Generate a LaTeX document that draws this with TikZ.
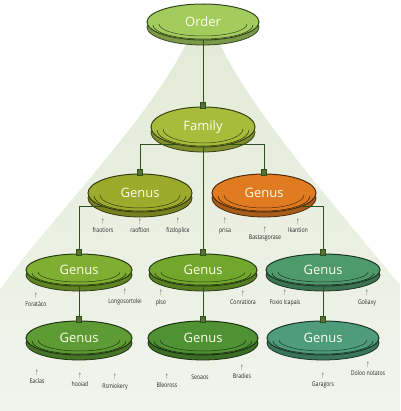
\documentclass[tikz,border=0pt]{standalone}
\usepackage{fontspec}
\usepackage{graphicx}
\setmainfont{Open Sans}
\newfontfamily\tagfont[FakeStretch=0.8]{Open Sans}
\usepackage{tikz}
\usetikzlibrary{shapes.geometric, positioning, calc}
\definecolor{cOrder}{HTML}{A2CC5E}
\definecolor{cFamily}{HTML}{A8BC3C}
\definecolor{cGenusA}{HTML}{9DAA2C}
\definecolor{cGenusB}{HTML}{E07B22}
\definecolor{cGenusC}{HTML}{7FAE32}
\definecolor{cGenusD}{HTML}{72A72E}
\definecolor{cGenusE}{HTML}{4F9A6C}
\definecolor{cGenusF}{HTML}{5E9B34}
\definecolor{cGenusG}{HTML}{4F9233}
\definecolor{cGenusH}{HTML}{4E9C7A}
\definecolor{cLink}{HTML}{2D5219}
\definecolor{cConeTop}{HTML}{E3EBD7}
\definecolor{cConeBot}{HTML}{F1F4EC}
\newcommand{\upnote}[1]{\shortstack{\scalebox{0.6}[1.1]{$\uparrow$}\\#1}}

\begin{document}
\begin{tikzpicture}[x=1pt, y=-1pt, >=latex]

                \tikzset{% styles for the discs and the links
                    disc/.style={ellipse,draw=#1!35!black,line width=1pt,fill=#1,inner sep=0pt,
                                 text=white!92!yellow,font=\fontsize{13}{13}\selectfont},
                    link/.style={draw=cLink,line width=1pt},
                    plug/.style={rectangle,draw=cLink,fill=cOrder!55!black,line width=0.6pt,
                                 minimum width=5pt,minimum height=6pt,inner sep=0pt},
                    tag/.style={font=\tagfont\fontsize{6.5}{7}\selectfont,text=black!85,inner sep=0pt,align=center}}

                    \useasboundingbox (0,0) rectangle (400,411);
                    \fill[white] (0,0) rectangle (400,411);
                    \shade[top color=cConeTop, bottom color=cConeBot]
                        (188,40) .. controls (150,120) and (40,230) .. (0,290) -- (0,411) -- (400,411)
                        -- (400,285) .. controls (330,200) and (250,110) .. (218,40) -- cycle;

                    % name / x / y / width / height / colour / text
                    \foreach \n/\x/\y/\w/\h/\c/\t in {
                        order/203/22/112/36/cOrder/Order,
                        family/203/127/104/40/cFamily/Family,
                        g_a/140/193/104/38/cGenusA/Genus,
                        g_b/264/193/104/38/cGenusB/Genus,
                        g_c/79/270/106/32/cGenusC/Genus,
                        g_d/203/270/108/32/cGenusD/Genus,
                        g_e/323/270/114/32/cGenusE/Genus,
                        g_f/79/338/106/34/cGenusF/Genus,
                        g_g/203/338/110/34/cGenusG/Genus,
                        g_h/323/338/112/34/cGenusH/Genus}{
                        \filldraw[fill=\c!75!black, draw=\c!35!black, line width=0.8pt] (\x,\y+5) ellipse ({\w/2} and {\h/2});
                        \node [disc=\c, minimum width=\w pt, minimum height=\h pt] (\n) at (\x,\y) {\t};
                        \draw [\c!35!black, line width=0.6pt] (\x-\w/2+6,\y+3) arc[start angle=180, end angle=0, x radius=\w/2-6, y radius=\h/2-4];
                        \draw [\c!35!black, line width=0.5pt] (\x-\w/2+12,\y+2) arc[start angle=180, end angle=0, x radius=\w/2-12, y radius=\h/2-6];
                    }

                    \draw [link] (order.south) -- (family.north);
                    \draw [link] (family.215) -| (g_a.north);
                    \draw [link] (family.325) -| (g_b.north);
                    \draw [link] (family.south) -- (g_d.north);
                    \draw [link] (g_a.200) -| (g_c.north);
                    \draw [link] (g_b.340) -| (g_e.north);
                    \draw [link] (g_c.south) -- (g_f.north);
                    \draw [link] (g_d.south) -- (g_g.north);
                    \draw [link] (g_e.south) -- (g_h.north);

                    \foreach \n in {family,g_a,g_b,g_c,g_d,g_e,g_f,g_g,g_h}
                        \node [plug, yshift=1pt] (p_\n) at (\n.north) {};

                    \node [tag] (t_a1) at (103,226) {\upnote{fraotiors}};
                    \node [tag] (t_a2) at (140,226) {\upnote{raoftion}};
                    \node [tag] (t_a3) at (178,226) {\upnote{fizdoplice}};
                    \node [tag] (t_b1) at (225,226) {\upnote{prisa}};
                    \node [tag] (t_b2) at (265,234) {\upnote{Bastasgorase}};
                    \node [tag] (t_b3) at (298,226) {\upnote{Ikantion}};
                    \node [tag] (t_c1) at (36,300) {\upnote{Foratáco}};
                    \node [tag] (t_c2) at (125,297) {\upnote{Longosortolei}};
                    \node [tag] (t_d1) at (161,298) {\upnote{plso}};
                    \node [tag] (t_d2) at (243,298) {\upnote{Conratiora}};
                    \node [tag] (t_e1) at (285,298) {\upnote{Foxio Icapais}};
                    \node [tag] (t_e2) at (367,298) {\upnote{Goliaxy}};
                    \node [tag] (t_f1) at (37,377) {\upnote{Eaclas}};
                    \node [tag] (t_f2) at (80,380) {\upnote{hooiad}};
                    \node [tag] (t_f3) at (115,382) {\upnote{Rsmiokery}};
                    \node [tag] (t_g1) at (167,381) {\upnote{Bleoross}};
                    \node [tag] (t_g2) at (200,377) {Seoaos};
                    \node [tag] (t_g3) at (242,372) {\upnote{Bradies}};
                    \node [tag] (t_h1) at (323,380) {\upnote{Garagors}};
                    \node [tag] (t_h2) at (368,369) {\upnote{Doloo notatos}};

            \end{tikzpicture}
\end{document}
